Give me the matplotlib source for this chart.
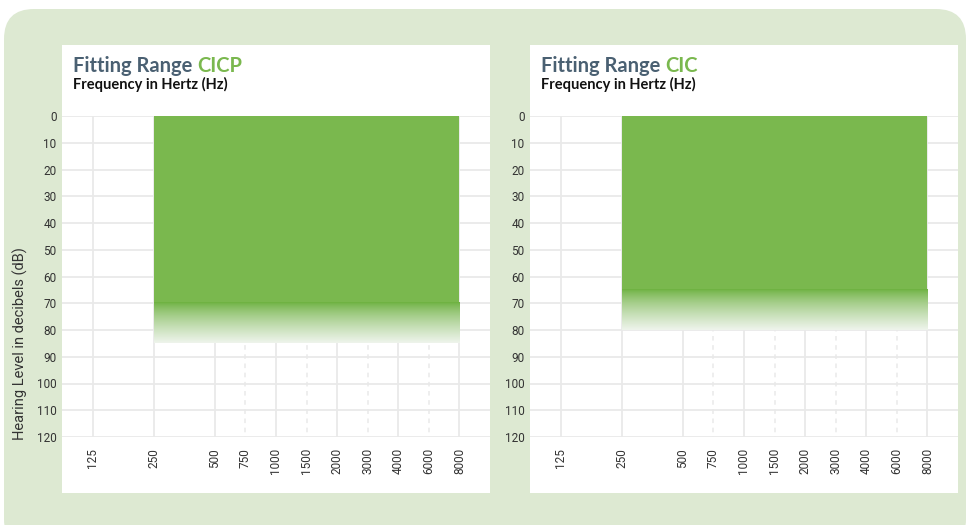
import numpy as np
import matplotlib
matplotlib.use("Agg")
import matplotlib.pyplot as plt
from matplotlib.patches import FancyBboxPatch, Rectangle
from matplotlib.ticker import FixedLocator, FixedFormatter

# --- data -------------------------------------------------------------
freqs = [125, 250, 500, 750, 1000, 1500, 2000, 3000, 4000, 6000, 8000]
levels = list(range(0, 130, 10))

panel_names = ["CICP", "CIC"]
fit_low_hz = [250, 250]
fit_high_hz = [8000, 8000]
fit_solid_db = [70, 65]    # solid fill down to this level
fit_fade_db = [85, 80]     # gradient fades out here

# --- style ------------------------------------------------------------
W, H = 969, 525
BG = "#dde9d2"
GREEN = "#7ab84e"
GREEN_DARK = np.array([0.42, 0.69, 0.24])
FADE_END = np.array([0.935, 0.957, 0.925])
SLATE = "#4a6072"
GRID = "#e9e9e9"
TXT = "#333333"


def audiogram_x(f):
    # octaves get even slots, half-octaves (750, 1500 ...) sit between
    octave = int(np.floor(np.log2(f / 125.0) + 1e-9))
    rem = f / (125.0 * 2 ** octave)
    return 2 * octave + (1 if rem > 1.01 else 0)


fig = plt.figure(figsize=(W / 100, H / 100), dpi=100)
fig.patch.set_facecolor("white")

# background layer in pixel coordinates
bg = fig.add_axes([0, 0, 1, 1], zorder=0)
bg.set_xlim(0, W)
bg.set_ylim(H, 0)
bg.axis("off")
bg.add_patch(FancyBboxPatch((4 + 30, 9 + 30), 962 - 60, 540 - 60,
                            boxstyle="round,pad=30", fc=BG, ec="none"))

card_left = [62, 530]
card_w = 428
for i, name in enumerate(panel_names):
    cx = card_left[i]
    bg.add_patch(Rectangle((cx, 45), card_w, 448, fc="white", ec="none"))
    t1 = bg.text(cx + 11, 72, "Fitting Range ", color=SLATE, fontsize=14.5,
                 fontweight="bold", family="Lato", va="baseline")
    fig.canvas.draw()
    ext = t1.get_window_extent()
    bg.text(ext.x1, 72, name, color=GREEN, fontsize=14.5, fontweight="bold",
            family="Lato", va="baseline")
    bg.text(cx + 11, 89, "Frequency in Hertz (Hz)", color="#111111",
            fontsize=10.5, fontweight="bold", family="Lato", va="baseline")

bg.text(20, 344, "Hearing Level in decibels (dB)", rotation=90, ha="center",
        va="center", fontsize=10.5, color=TXT, family="Roboto")

xpos = [audiogram_x(f) for f in freqs]
half = [f for f in freqs if audiogram_x(f) % 2 == 1]

for i, name in enumerate(panel_names):
    ax = fig.add_axes([card_left[i] / W, (H - 437) / H, card_w / W, 321 / H],
                      zorder=2)
    ax.patch.set_alpha(0)
    for s in ax.spines.values():
        s.set_visible(False)

    # grid
    for lv in levels:
        ax.axhline(lv, color=GRID, lw=1.3, zorder=0)
    for f in freqs:
        x = audiogram_x(f)
        if f in half:
            ax.plot([x, x], [0, 120], color=GRID, lw=1.1, ls=(0, (3, 3)),
                    zorder=0)
        else:
            ax.plot([x, x], [0, 120], color=GRID, lw=1.3, zorder=0)

    x0 = audiogram_x(fit_low_hz[i])
    x1 = audiogram_x(fit_high_hz[i])
    ax.fill_between([x0, x1], 0, fit_solid_db[i], color=GREEN, lw=0,
                    zorder=2)
    n = 200
    tt = np.linspace(0, 1, n) ** 0.75
    grad = np.ones((n, 1, 3))
    grad[:, 0, :] = GREEN_DARK[None, :] * (1 - tt[:, None]) + FADE_END[None, :] * tt[:, None]
    ax.imshow(grad, extent=[x0, x1, fit_fade_db[i], fit_solid_db[i]],
              aspect="auto", interpolation="bilinear", zorder=2)
    ax.set_xlim(-1, 13)
    ax.set_ylim(120, 0)

    ax.xaxis.set_major_locator(FixedLocator(xpos))
    ax.xaxis.set_major_formatter(FixedFormatter([str(f) for f in freqs]))
    ax.yaxis.set_major_locator(FixedLocator(levels))
    ax.yaxis.set_major_formatter(FixedFormatter([str(v) for v in levels]))
    ax.tick_params(axis="both", length=0, labelsize=8.5, labelcolor=TXT)
    ax.tick_params(axis="x", pad=8, labelrotation=90)
    ax.tick_params(axis="y", pad=4)
    for lab in ax.get_xticklabels() + ax.get_yticklabels():
        lab.set_family("Roboto")
    for lab in ax.get_xticklabels():
        lab.set_va("top")

fig.savefig("out.png", dpi=100, facecolor="white")
